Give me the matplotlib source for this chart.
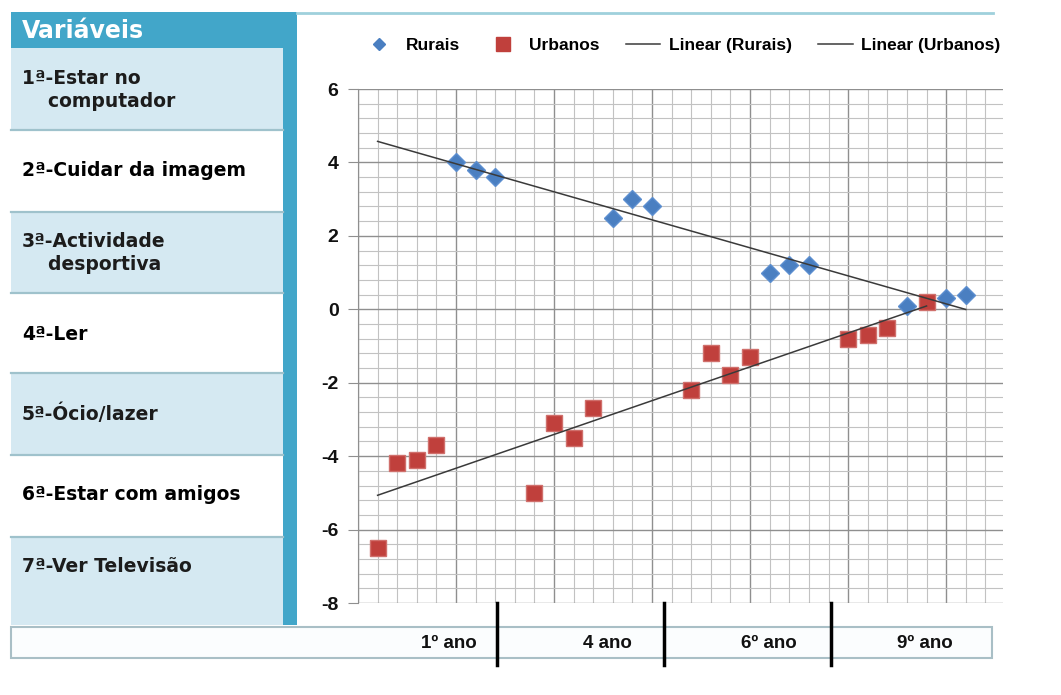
import numpy as np
import matplotlib.pyplot as plt
from matplotlib.patches import Rectangle
from matplotlib.lines import Line2D

plt.rcParams['font.family'] = ['Liberation Sans', 'DejaVu Sans']
plt.rcParams['axes.unicode_minus'] = False

# -----------------------------
# Data
# -----------------------------
variaveis = ["1ª-Estar no\n    computador", "2ª-Cuidar da imagem",
             "3ª-Actividade\n    desportiva", "4ª-Ler", "5ª-Ócio/lazer",
             "6ª-Estar com amigos", "7ª-Ver Televisão"]
anos = ["1º ano", "4 ano", "6º ano", "9º ano"]

rur_x = [5, 6, 7, 13, 14, 15, 21, 22, 23, 28, 30, 31]
rur_y = [4.0, 3.8, 3.6, 2.5, 3.0, 2.8, 1.0, 1.2, 1.2, 0.1, 0.3, 0.4]

urb_x = [1, 2, 3, 4, 9, 10, 11, 12, 17, 18, 19, 20, 25, 26, 27, 29]
urb_y = [-6.5, -4.2, -4.1, -3.7, -5.0, -3.1, -3.5, -2.7,
         -2.2, -1.2, -1.8, -1.3, -0.8, -0.7, -0.5, 0.2]

# -----------------------------
# Figure / helpers (pixel layout)
# -----------------------------
W, H = 1061, 695
fig = plt.figure(figsize=(W / 100, H / 100), dpi=100)

def rect(x0, y0, x1, y1, **kw):
    r = Rectangle((x0 / W, 1 - y1 / H), (x1 - x0) / W, (y1 - y0) / H,
                  transform=fig.transFigure, **kw)
    fig.add_artist(r)

def hline(x0, x1, y, **kw):
    fig.add_artist(Line2D([x0 / W, x1 / W], [1 - y / H, 1 - y / H],
                          transform=fig.transFigure, **kw))

def vline(x, y0, y1, **kw):
    fig.add_artist(Line2D([x / W, x / W], [1 - y0 / H, 1 - y1 / H],
                          transform=fig.transFigure, **kw))

teal = "#42a6c9"
light = "#d5e9f2"
sep = "#9fc2cc"

# -----------------------------
# Left table
# -----------------------------
rect(11, 12, 297, 48, facecolor=teal, edgecolor="none", zorder=1)
rect(283, 12, 297, 625, facecolor=teal, edgecolor="none", zorder=1)
fig.text(22 / W, 1 - 31 / H, "Variáveis", color="white", fontsize=17,
         weight="bold", va="center", ha="left", family="DejaVu Sans")

row_edges = [48, 130, 212, 293, 373, 455, 537, 625]
text_y = [90, 171, 253, 334, 414, 495, 567]
for i, lab in enumerate(variaveis):
    fc = light if i % 2 == 0 else "white"
    rect(11, row_edges[i], 283, row_edges[i + 1], facecolor=fc,
         edgecolor="none", zorder=1)
    if i > 0:
        hline(11, 283, row_edges[i], color=sep, lw=1.6, zorder=2)
    col = "#1c1c1c" if i % 2 == 0 else "black"
    fig.text(22 / W, 1 - text_y[i] / H, lab, color=col, fontsize=13.5,
             weight="bold", va="center", ha="left", linespacing=1.3,
             family="DejaVu Sans")

# top border of the chart
hline(297, 993, 13, color="#9fd0dc", lw=2, zorder=2)

# -----------------------------
# Bottom table
# -----------------------------
rect(11, 627, 992, 658, facecolor="#fbfdfe", edgecolor="#a9bfc6", lw=1.5, zorder=1)
lab_x = [449, 607, 769, 925]
for lx, lab in zip(lab_x, anos):
    fig.text(lx / W, 1 - 643 / H, lab, fontsize=13.5, weight="bold",
             ha="center", va="center", color="#111111")
for sx in [497, 664, 831]:
    vline(sx, 603, 665, color="black", lw=2.5, zorder=5)

# -----------------------------
# Chart
# -----------------------------
ax = fig.add_axes([358 / W, 1 - 603 / H, (1003 - 358) / W, (603 - 89) / H])
ax.set_xlim(0, 32.9)
ax.set_ylim(-8, 6)

ax.set_xticks(np.arange(0, 33, 5))
ax.set_xticks(np.arange(0, 33, 1), minor=True)
ax.set_yticks(np.arange(-8, 7, 2))
ax.set_yticks(np.arange(-8, 6.01, 0.4), minor=True)
ax.grid(which="major", color="#8f8f8f", lw=1.0)
ax.grid(which="minor", color="#c2c2c2", lw=0.8)
ax.set_axisbelow(True)

ax.tick_params(axis="x", which="both", length=0, labelbottom=False)
ax.tick_params(axis="y", which="minor", length=0)
ax.tick_params(axis="y", which="major", length=7, color="#8f8f8f",
               pad=7, labelsize=14, labelcolor="#111111")
for t in ax.get_yticklabels():
    t.set_fontweight("bold")
for s in ["top", "right", "bottom"]:
    ax.spines[s].set_visible(False)
ax.spines["left"].set_color("#8f8f8f")

blue = "#4a7fc1"
red = "#c0403c"
ax.plot(rur_x, rur_y, "D", color=blue, ms=9, mec="#5d8fd0", zorder=3)
ax.plot(urb_x, urb_y, "s", color=red, ms=12, mec="#d0706c", zorder=3)

# linear trendlines
pr = np.polyfit(rur_x, rur_y, 1)
pu = np.polyfit(urb_x, urb_y, 1)
xr = np.array([1, max(rur_x)])
xu = np.array([1, max(urb_x)])
ax.plot(xr, np.polyval(pr, xr), color="#3a3a3a", lw=1.1, zorder=4)
ax.plot(xu, np.polyval(pu, xu), color="#3a3a3a", lw=1.1, zorder=4)

handles = [
    Line2D([], [], ls="none", marker="D", color=blue, ms=6.5),
    Line2D([], [], ls="none", marker="s", color=red, ms=10),
    Line2D([], [], color="#3a3a3a", lw=1.1),
    Line2D([], [], color="#3a3a3a", lw=1.1),
]
labels = ["Rurais", "Urbanos", "Linear (Rurais)", "Linear (Urbanos)"]
fig.legend(handles, labels, loc="center left", bbox_to_anchor=(362 / W, 1 - 45 / H),
           ncol=4, frameon=False, prop=dict(weight="bold", size=12.5),
           columnspacing=1.5, handlelength=2.0, handletextpad=0.5,
           borderaxespad=0, borderpad=0)

plt.savefig("out.png", dpi=100)
